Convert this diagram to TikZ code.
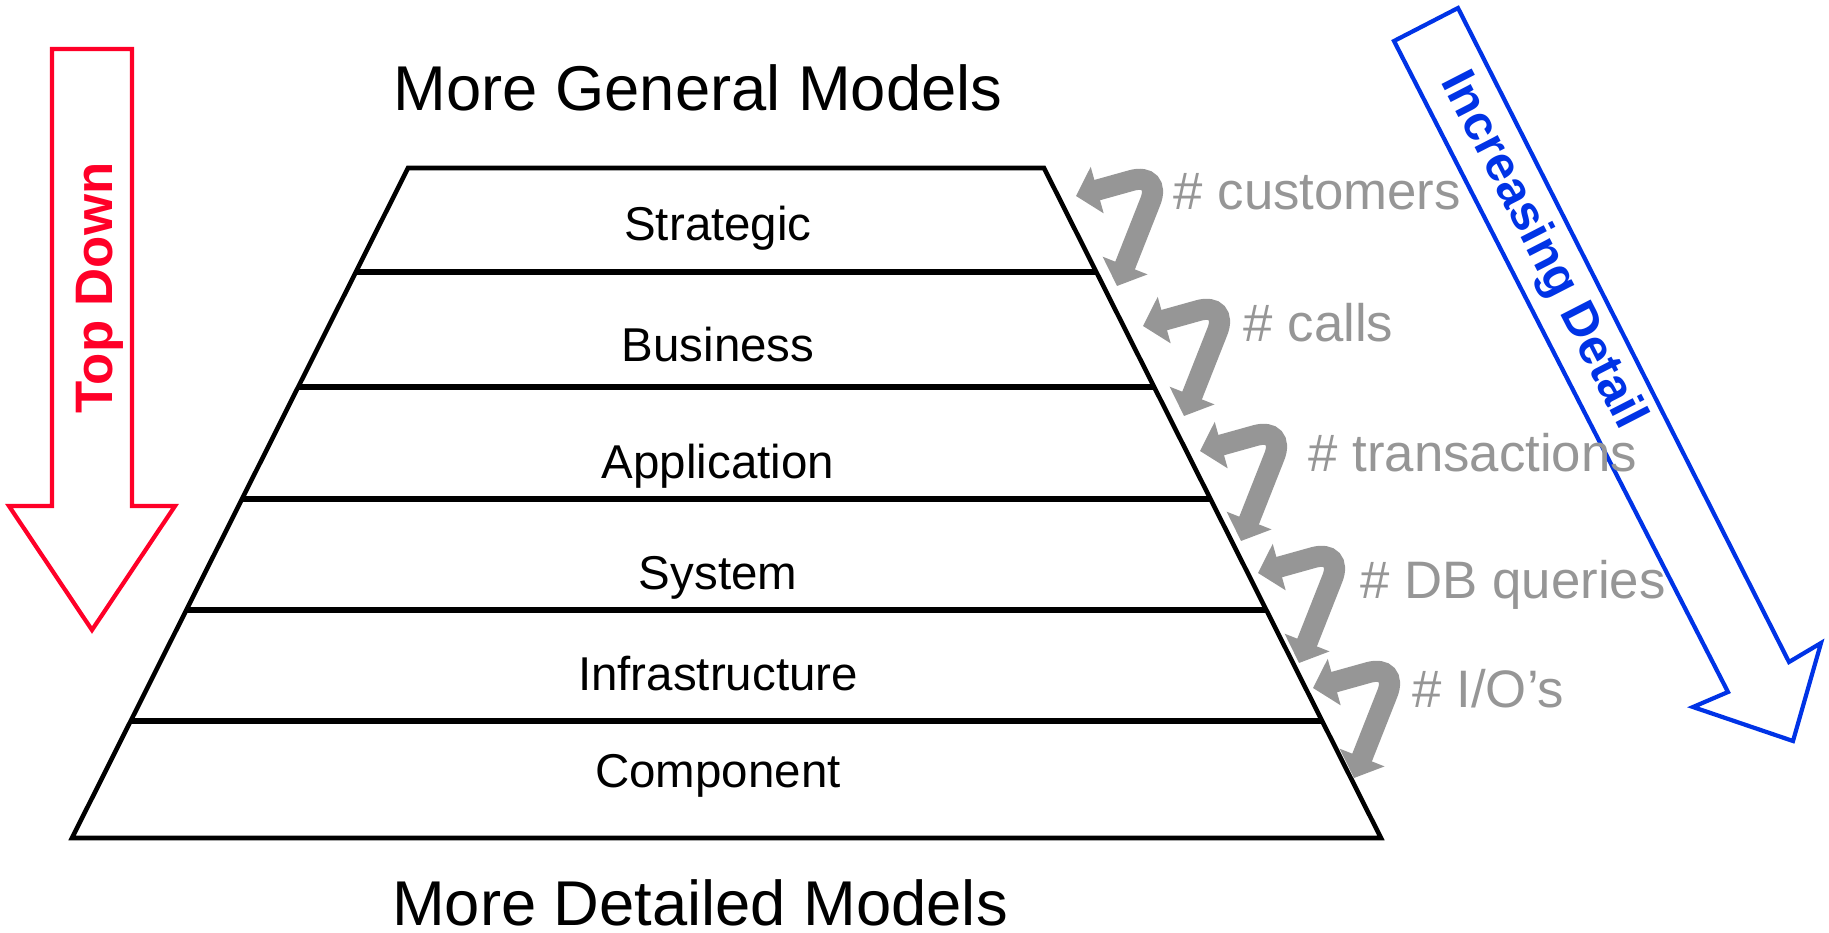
\documentclass[tikz,border=0pt]{standalone}
\usepackage{fontspec}
\setmainfont{Liberation Sans}
\usepackage{xcolor}
\usepackage{tikz}
\usetikzlibrary{arrows.meta,calc}
\definecolor{tdred}{RGB}{255,0,40}
\definecolor{idblue}{RGB}{0,51,230}
\definecolor{hookgray}{RGB}{150,150,150}

\begin{document}
\begin{tikzpicture}[x=0.01cm,y=-0.01cm,
  edgeline/.style={line width=1.3pt},
  layerline/.style={line width=1.8pt},
  layertext/.style={anchor=base,font=\fontsize{13.5}{16}\selectfont},
  bigtitle/.style={anchor=base,inner sep=0pt,font=\fontsize{18}{22}\selectfont},
  hook/.style={hookgray,line width=6pt,rounded corners=9pt,{Triangle[length=0.22cm,width=0.47cm]}-{Triangle[length=0.22cm,width=0.47cm]}},
  hooktext/.style={anchor=base west,inner xsep=0pt,text=hookgray,font=\fontsize{15}{18}\selectfont}]
\useasboundingbox (0,0) rectangle (1829,932);
% titles
\node[bigtitle] (general) at (698,110) {More General Models};
\node[bigtitle] (detailed) at (700,925) {More Detailed Models};
% pyramid
\coordinate (ptl) at (408,168);
\coordinate (ptr) at (1044,168);
\coordinate (pbr) at (1381,838);
\coordinate (pbl) at (72,838);
\draw[edgeline] (ptl) -- (ptr) -- (pbr) -- (pbl) -- cycle;
\foreach \yy in {272,387,499,610,721}{ \draw[layerline] ($(ptl)!{(\yy-168)/670}!(pbl)$) -- ($(ptr)!{(\yy-168)/670}!(pbr)$);}
\foreach \nm/\txt/\yy in {strategic/Strategic/240,business/Business/361,application/Application/478,system/System/589,infra/Infrastructure/690,component/Component/787}{ \node[layertext] (\nm) at (718,\yy) {\txt};}
% top down (red)
\draw[tdred,line width=1.2pt] (52,49) -- (132,49) -- (132,506) -- (175,506) -- (92,630) -- (9,506) -- (52,506) -- cycle;
\node[rotate=90,anchor=base,text=tdred,font=\bfseries\fontsize{15}{18}\selectfont] (topdown) at (113,288) {Top Down};
% increasing detail (blue)
\draw[idblue,line width=1.2pt] (1394,41) -- (1458,8) -- (1789,662) -- (1821,643) -- (1793,741) -- (1693,707) -- (1728,692) -- cycle;
\node[rotate=-62.8,text=idblue,font=\bfseries\fontsize{14}{17}\selectfont] (incdetail) at (1542,251) {Increasing Detail};
% grey hooks between the layers
\foreach \i/\dx/\dy in {1/0/0,2/67/130,3/124/255,4/182/377,5/237/492}{
  \coordinate (hooka\i) at ({1076+\dx},{196+\dy});
  \coordinate (hookb\i) at ({1162+\dx},{172+\dy});
  \coordinate (hookc\i) at ({1117+\dx},{286+\dy});
  \draw[hook] (hooka\i) -- (hookb\i) -- (hookc\i);}
\foreach \nm/\txt/\xx/\yy in {cust/customers/1173/209,calls/calls/1243/341,trans/transactions/1308/471,dbq/DB queries/1360/598,io/{I/O's}/1412/707}{ \node[hooktext] (\nm) at (\xx,\yy) {\# \txt};}
\end{tikzpicture}
\end{document}
